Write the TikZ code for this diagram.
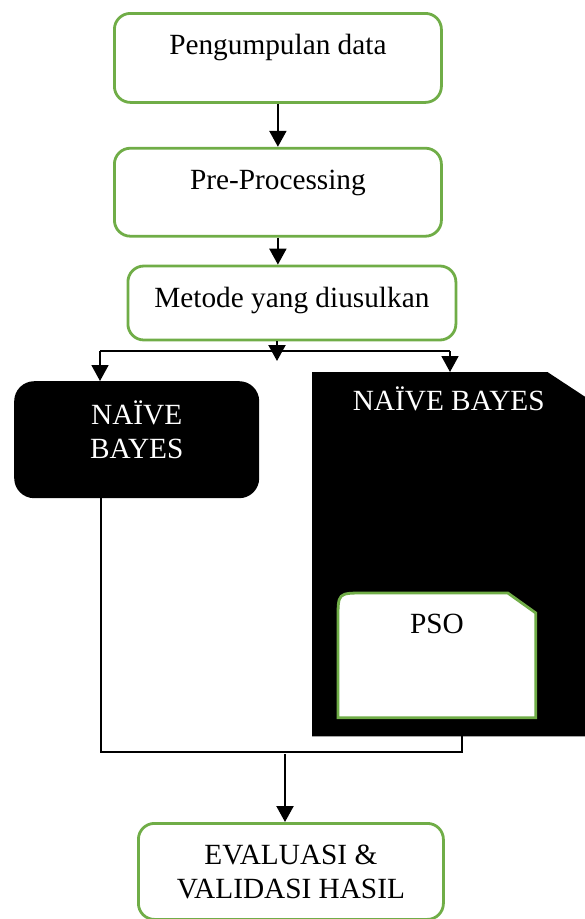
\documentclass[tikz,border=0pt]{standalone}
\usepackage{fontspec}
\setmainfont{Liberation Serif}
\usepackage{tikz}
\usetikzlibrary{arrows.meta, positioning, backgrounds}
\definecolor{stagegreen}{RGB}{112,173,71}

\begin{document}
\begin{tikzpicture}[
    x=1pt, y=-1pt,
    stage/.style={rectangle, rounded corners=16pt, draw=stagegreen, line width=2.8pt, fill=white, inner sep=0pt, align=center, font=\fontsize{29.3}{33.5}\selectfont},
    darkbox/.style={rectangle, text=white, inner sep=0pt, align=center, font=\fontsize{29.3}{33.5}\selectfont},
    arrow/.style={-{Triangle[width=17pt, length=16pt]}, line width=2.2pt},
    link/.style={line width=1.3pt}
  ]
  \useasboundingbox (0,0) rectangle (585,919);

  \node[stage, minimum width=327pt, text height=41pt, text depth=48pt, anchor=north west] (collect) at (113,12) {Pengumpulan data};
  \node[stage, minimum width=327pt, text height=41pt, text depth=47pt, below=43pt of collect] (prep) {Pre-Processing};
  \node[stage, minimum width=328pt, text height=41pt, text depth=33pt, below=27pt of prep, xshift=14pt] (method) {Metode yang diusulkan};

  \draw[arrow] (collect) -- (prep);
  \draw[arrow] (prep.south) -- (prep.south |- method.north);

  % the two models
  \node[darkbox, fill=black, rounded corners=20pt, minimum width=245pt, text height=77pt, text depth=40pt, anchor=north west] (nb) at (14,381) {NAÏVE\\BAYES};
  \node[darkbox, minimum width=273pt, text height=38pt, text depth=326pt, anchor=north west] (nbpso) at (312,372) {NAÏVE BAYES};
  \node[stage, draw=none, fill=none, rounded corners=0pt, minimum width=195pt, text height=39pt, text depth=83pt, anchor=north west] (pso) at (338,593) {PSO};

  \begin{scope}[on background layer]
    \fill (nbpso.south west) -- (nbpso.north west) -- ([xshift=-38pt]nbpso.north east) -- ([yshift=-25pt]nbpso.north east) -- (nbpso.south east) -- cycle;
    \filldraw[draw=stagegreen, line width=2.8pt, fill=white] (pso.south west) -- ([yshift=-26pt]pso.north west) .. controls (pso.north west) .. ([xshift=26pt]pso.north west) -- ([xshift=-28pt]pso.north east) -- ([yshift=-20pt]pso.north east) -- (pso.south east) -- cycle;
  \end{scope}

  % split
  \coordinate (splitL) at (100,351);
  \coordinate (splitR) at (450,351);
  \coordinate (splitTip) at (277,361);
  \draw[arrow] (method.south -| splitTip) -- (splitTip);
  \draw[link] (splitL) -- (splitR);
  \draw[arrow, line width=1.8pt] (splitL) -- (nb.north -| splitL);
  \draw[arrow, line width=1.8pt] (splitR) -- (nbpso.north -| splitR);

  % merge
  \coordinate (mergeL) at (101,752);
  \coordinate (mergeR) at (462,752);
  \coordinate (mergeOut) at (285,754);
  \draw[link] (nb.south -| mergeL) -- (mergeL) -- (mergeR) -- (nbpso.south -| mergeR);
  \node[stage, minimum width=305pt, text height=75pt, text depth=21pt, anchor=north west] (eval) at (137,822) {EVALUASI \&\\VALIDASI HASIL};
  \draw[arrow] (mergeOut) -- (eval.north -| mergeOut);
\end{tikzpicture}
\end{document}
